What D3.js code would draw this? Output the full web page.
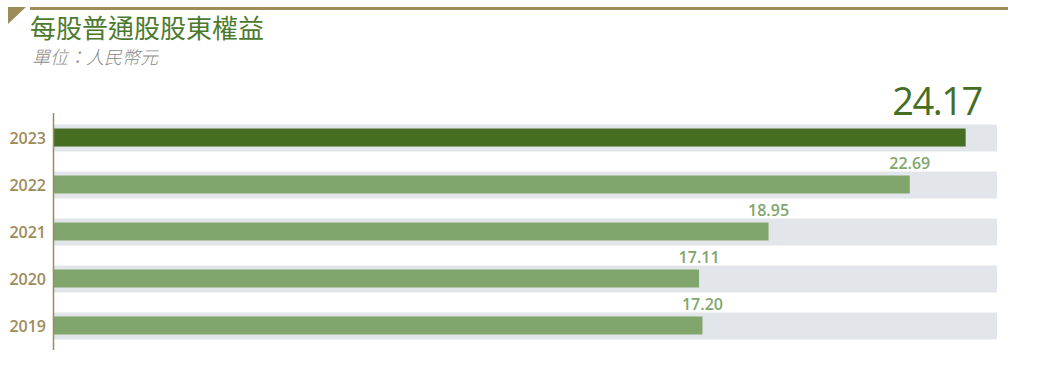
<!DOCTYPE html>
<html>
<head>
<meta charset="utf-8">
<script src="https://cdn.jsdelivr.net/npm/d3@7"></script>
<style>
  body { margin: 0; background: #fff; }
  svg { display: block; font-family: "Open Sans", "Noto Sans", sans-serif; }
</style>
</head>
<body>
<svg id="chart" width="1039" height="366"></svg>
<script>
const years = ["2023", "2022", "2021", "2020", "2019"];
const values = [24.17, 22.69, 18.95, 17.11, 17.20];
const labels = ["24.17", "22.69", "18.95", "17.11", "17.20"];
const maxValue = 25;

const svg = d3.select("#chart");
const gold = "#9d8b5a";

// header
svg.append("path")
  .attr("d", "M8,7 L26,7 L8,24 Z")
  .attr("fill", gold);
svg.append("rect")
  .attr("x", 30).attr("y", 7).attr("width", 978).attr("height", 3)
  .attr("fill", gold);
svg.append("text")
  .attr("x", 30).attr("y", 38)
  .attr("font-family", "'Noto Sans CJK TC', 'Noto Sans CJK SC', sans-serif")
  .attr("font-size", 26)
  .attr("fill", "#4b7a2f")
  .text("每股普通股股東權益");
svg.append("text")
  .attr("x", 32).attr("y", 64)
  .attr("font-family", "'Noto Sans CJK TC', 'Noto Sans CJK SC', sans-serif")
  .attr("font-size", 18)
  .attr("font-weight", 300)
  .attr("font-style", "italic")
  .attr("fill", "#8a8a8a")
  .text("單位：人民幣元");

const x = d3.scaleLinear().domain([0, maxValue]).range([53, 997]);
const y = d3.scaleBand().domain(years).range([115, 349]).paddingInner(0.42).paddingOuter(0.2);

const rows = svg.append("g").selectAll("g")
  .data(years.map((yr, i) => ({ year: yr, value: values[i], label: labels[i], i: i })))
  .join("g");

// background track
rows.append("rect")
  .attr("x", x(0))
  .attr("y", d => y(d.year) + y.bandwidth() / 2 - 13.5)
  .attr("width", x(maxValue) - x(0))
  .attr("height", 27)
  .attr("fill", "#e2e6ea");

// value bars
rows.append("rect")
  .attr("x", x(0))
  .attr("y", d => y(d.year) + y.bandwidth() / 2 - 9.5)
  .attr("width", d => x(d.value) - x(0))
  .attr("height", 18)
  .attr("fill", d => d.i === 0 ? "#466e23" : "#80a66d");

// value labels
rows.append("text")
  .attr("x", d => d.i === 0 ? x(d.value) + 16 : x(d.value))
  .attr("y", d => y(d.year) + y.bandwidth() / 2 - (d.i === 0 ? 23 : 16))
  .attr("text-anchor", d => d.i === 0 ? "end" : "middle")
  .attr("font-size", d => d.i === 0 ? 38 : 16)
  .attr("letter-spacing", d => d.i === 0 ? -1.5 : 0)
  .attr("font-weight", d => d.i === 0 ? 400 : 600)
  .attr("fill", d => d.i === 0 ? "#466e23" : "#80a66d")
  .text(d => d.label);

// year labels
rows.append("text")
  .attr("x", 46)
  .attr("y", d => y(d.year) + y.bandwidth() / 2)
  .attr("dy", "0.4em")
  .attr("text-anchor", "end")
  .attr("font-size", 16)
  .attr("font-weight", 600)
  .attr("fill", gold)
  .text(d => d.year);

// axis line
svg.append("line")
  .attr("x1", 53.5).attr("x2", 53.5)
  .attr("y1", 113).attr("y2", 350)
  .attr("stroke", gold).attr("stroke-width", 1.5);
</script>
</body>
</html>
